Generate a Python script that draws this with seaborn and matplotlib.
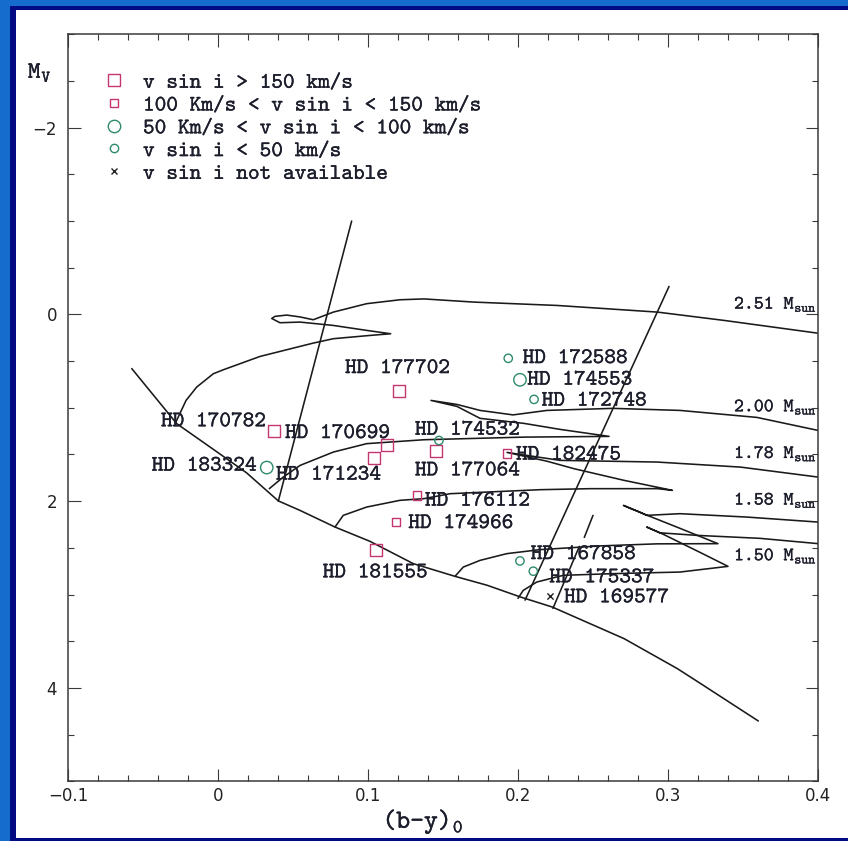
import numpy as np
import pandas as pd
import matplotlib
matplotlib.use("Agg")
import matplotlib.pyplot as plt
import matplotlib.patheffects as pe
from matplotlib.lines import Line2D
from matplotlib.patches import Rectangle
from matplotlib.ticker import MultipleLocator
import seaborn as sns

# ---------------- programme stars: (b-y)0, Mv and v sin i class ----------------
star_names = ["HD 177702", "HD 170782", "HD 170699", "HD 171234", "HD 177064",
              "HD 181555", "HD 182475", "HD 176112", "HD 174966", "HD 183324",
              "HD 174553", "HD 172588", "HD 172748", "HD 174532", "HD 167858",
              "HD 175337", "HD 169577"]
star_by = [0.1205, 0.0371, 0.1123, 0.1038, 0.1453, 0.1051, 0.1925, 0.1323, 0.1183,
           0.0323, 0.2011, 0.1933, 0.2105, 0.1471, 0.2011, 0.2100, 0.2211]
star_mv = [0.82, 1.25, 1.40, 1.54, 1.46, 2.52, 1.49, 1.94, 2.22,
           1.64, 0.70, 0.47, 0.91, 1.35, 2.64, 2.75, 3.02]
star_vsini = ["fast", "fast", "fast", "fast", "fast", "fast", "mid", "mid", "mid",
              "moderate", "moderate", "slow", "slow", "slow", "slow", "slow", "na"]

vsini_classes = ["fast", "mid", "moderate", "slow", "na"]
vsini_labels = ["v sin i > 150 km/s",
                "100 Km/s < v sin i < 150 km/s",
                "50 Km/s < v sin i < 100 km/s",
                "v sin i < 50 km/s",
                "v sin i not available"]

# where each star name is written (left end, baseline)
name_by = [0.0845, -0.0382, 0.0445, 0.0385, 0.1311, 0.0696, 0.1985, 0.1378, 0.1267,
           -0.0444, 0.2060, 0.2029, 0.2156, 0.1311, 0.2083, 0.2207, 0.2305]
name_mv = [0.628, 1.198, 1.324, 1.769, 1.724, 2.816, 1.555, 2.048, 2.288,
           1.673, 0.752, 0.521, 0.977, 1.288, 2.620, 2.869, 3.083]

# ---------------- ZAMS and evolutionary tracks ----------------
zams_by = [-0.0577, -0.0277, -0.0033, 0.0189, 0.0400, 0.0545, 0.0778, 0.1011, 0.1300,
           0.1578, 0.1793, 0.2016, 0.2227, 0.2705, 0.3060, 0.3216, 0.3600]
zams_mv = [0.58, 1.17, 1.445, 1.697, 1.997, 2.099, 2.277, 2.430, 2.669,
           2.805, 2.901, 3.027, 3.134, 3.472, 3.793, 3.954, 4.354]

trk251_by = [-0.0285, -0.0215, -0.0144, -0.0033, 0.0033, 0.0278, 0.0633, 0.0767, 0.1011,
             0.1149, 0.0989, 0.0767, 0.0545, 0.0411, 0.0356, 0.0378, 0.0456, 0.0545,
             0.0633, 0.0767, 0.0989, 0.1211, 0.1371, 0.1705, 0.2260, 0.2927, 0.3371,
             0.3993]
trk251_mv = [1.16, 0.921, 0.778, 0.635, 0.593, 0.450, 0.307, 0.260, 0.225,
             0.207, 0.171, 0.118, 0.082, 0.089, 0.043, 0.021, 0.007, 0.027,
             0.057, -0.025, -0.115, -0.157, -0.166, -0.132, -0.096, -0.025, 0.064,
             0.200]

trk200_by = [0.0340, 0.0433, 0.0545, 0.0767, 0.0989, 0.1371, 0.2038, 0.2605, 0.2278,
             0.2038, 0.1745, 0.1591, 0.1418, 0.1591, 0.1745, 0.1965, 0.2191, 0.2631,
             0.3078, 0.3591, 0.3998]
trk200_mv = [1.866, 1.742, 1.617, 1.474, 1.384, 1.342, 1.314, 1.306, 1.231,
             1.167, 1.113, 0.985, 0.921, 0.964, 1.028, 1.076, 1.028, 1.006,
             1.028, 1.103, 1.242]

trk178_by = [0.0778, 0.0833, 0.0989, 0.1211, 0.1371, 0.1545, 0.2145, 0.2483, 0.2927,
             0.3027, 0.2705, 0.2371, 0.2191, 0.1925, 0.2145, 0.2278, 0.2925, 0.3481,
             0.3999]
trk178_mv = [2.277, 2.152, 2.063, 1.991, 1.973, 1.920, 1.877, 1.866, 1.866,
             1.884, 1.777, 1.652, 1.572, 1.478, 1.531, 1.563, 1.581, 1.635,
             1.742]

trk158_by = [0.1578, 0.1633, 0.1745, 0.1923, 0.2145, 0.2545, 0.2925, 0.3331, 0.3078,
             0.2878, 0.2745, 0.2701, 0.2799, 0.2856, 0.3078, 0.3522, 0.4000]
trk158_mv = [2.805, 2.706, 2.634, 2.562, 2.519, 2.479, 2.457, 2.455, 2.291,
             2.163, 2.077, 2.045, 2.109, 2.152, 2.134, 2.170, 2.224]

trk150_by = [0.1998, 0.2033, 0.2123, 0.2300, 0.2633, 0.3078, 0.3398, 0.3211, 0.2967,
             0.2856, 0.2945, 0.3189, 0.3611, 0.4000]
trk150_mv = [3.041, 2.955, 2.866, 2.794, 2.776, 2.759, 2.698, 2.548, 2.355,
             2.277, 2.339, 2.366, 2.398, 2.455]

# instability strip edges
blue_edge_by = [0.0889, 0.0400]
blue_edge_mv = [-1.00, 2.00]
red_edge_by = [0.3005, 0.2045]
red_edge_mv = [-0.30, 3.06]
inner_a_by = [0.2231, 0.2407]
inner_a_mv = [3.148, 2.484]
inner_b_by = [0.2440, 0.2498]
inner_b_mv = [2.388, 2.152]

mass_labels = ["2.51", "2.00", "1.78", "1.58", "1.50"]
mass_label_by = [0.3438, 0.3438, 0.3438, 0.3438, 0.3438]
mass_label_mv = [-0.061, 1.039, 1.538, 2.038, 2.634]

x_tick_values = [-0.1, 0.0, 0.1, 0.2, 0.3, 0.4]
x_tick_labels = ["\u22120.1", "0", "0.1", "0.2", "0.3", "0.4"]
y_tick_values = [-2, 0, 2, 4]
y_tick_labels = ["\u22122", "0", "2", "4"]

# ---------------- style ----------------
sns.set_style("ticks")
TXT = 16.0
MASS_TXT = 13.6
SERIF_MONO = ["cmtt10", "DejaVu Sans"]
INK = "#1c1e2c"
plt.rcParams.update({
    "font.family": SERIF_MONO,
    "mathtext.fontset": "custom",
    "mathtext.rm": "cmtt10",
    "mathtext.it": "cmtt10",
    "mathtext.bf": "cmtt10",
    "axes.edgecolor": "#3a3a3a",
    "axes.linewidth": 1.1,
    "xtick.color": "#3a3a3a",
    "ytick.color": "#3a3a3a",
    "xtick.labelcolor": "#222222",
    "ytick.labelcolor": "#222222",
})
heavy = [pe.withStroke(linewidth=0.2, foreground=INK)]

PINK = "#C4366F"
GREEN = "#2E8B6C"
LINE = "#1a1a1a"
W, H = 848, 841

fig = plt.figure(figsize=(W / 100, H / 100), dpi=100)
fig.patch.set_facecolor("#166CCC")
fig.add_artist(Rectangle((10 / W, 0), 838 / W, 835 / H, transform=fig.transFigure,
                         facecolor="#000A82", edgecolor="none", zorder=-3))
fig.add_artist(Rectangle((16 / W, 3 / H), 832 / W, 828 / H, transform=fig.transFigure,
                         facecolor="white", edgecolor="none", zorder=-2))

ax = fig.add_axes([68.3 / W, (H - 781.3) / H, 750 / W, 747 / H])
ax.set_facecolor("none")

# curves
curves = {
    "zams": (zams_by, zams_mv),
    "2.51": (trk251_by, trk251_mv),
    "2.00": (trk200_by, trk200_mv),
    "1.78": (trk178_by, trk178_mv),
    "1.58": (trk158_by, trk158_mv),
    "1.50": (trk150_by, trk150_mv),
    "blue": (blue_edge_by, blue_edge_mv),
    "red": (red_edge_by, red_edge_mv),
    "inner_a": (inner_a_by, inner_a_mv),
    "inner_b": (inner_b_by, inner_b_mv),
}
curve_df = pd.concat(
    [pd.DataFrame({"by": b, "mv": m, "curve": k}) for k, (b, m) in curves.items()],
    ignore_index=True)
sns.lineplot(data=curve_df, x="by", y="mv", units="curve", estimator=None,
             sort=False, color=LINE, linewidth=1.15, ax=ax, legend=False)

# stars
stars = pd.DataFrame({"name": star_names, "by": star_by, "mv": star_mv,
                      "vsini": star_vsini})
marker_style = {
    "fast": dict(marker="s", s=76, color=PINK, hollow=True),
    "mid": dict(marker="s", s=36, color=PINK, hollow=True),
    "moderate": dict(marker="o", s=80, color=GREEN, hollow=True),
    "slow": dict(marker="o", s=36, color=GREEN, hollow=True),
    "na": dict(marker="x", s=20, color="#222222", hollow=False),
}
for cls in vsini_classes:
    st = marker_style[cls]
    sub = stars[stars["vsini"] == cls]
    sns.scatterplot(data=sub, x="by", y="mv", marker=st["marker"], s=st["s"],
                    color=st["color"], linewidth=1.0, ax=ax, legend=False, zorder=3)
    coll = ax.collections[-1]
    if st["hollow"]:
        coll.set_facecolor("none")
        coll.set_edgecolor(st["color"])

for nm, bx, my in zip(star_names, name_by, name_mv):
    ax.text(bx, my, nm, fontsize=TXT, color=INK, ha="left", va="baseline",
            zorder=4, path_effects=heavy)

for lab, bx, my in zip(mass_labels, mass_label_by, mass_label_mv):
    ax.text(bx, my, lab + r" M$_{\rm sun}$", fontsize=MASS_TXT, color=INK,
            ha="left", va="baseline", zorder=4, path_effects=heavy)

# axes
ax.set_xlim(-0.1, 0.4)
ax.set_ylim(5, -3)
ax.set_xlabel("")
ax.set_ylabel("")
ax.set_xticks(x_tick_values, labels=x_tick_labels, fontfamily="DejaVu Sans", fontsize=12)
ax.set_yticks(y_tick_values, labels=y_tick_labels, fontfamily="DejaVu Sans", fontsize=12)
ax.xaxis.set_minor_locator(MultipleLocator(0.02))
ax.yaxis.set_minor_locator(MultipleLocator(0.5))
ax.tick_params(which="both", direction="in", top=True, right=True, width=0.8)
ax.tick_params(which="major", length=9)
ax.tick_params(which="minor", length=4.6)
ax.tick_params(axis="x", which="major", pad=4)
ax.tick_params(axis="y", which="major", pad=8)
for side in ["top", "right", "left", "bottom"]:
    ax.spines[side].set_visible(True)

# legend
handles = []
for cls in vsini_classes:
    st = marker_style[cls]
    ms = np.sqrt(st["s"])
    if st["hollow"]:
        handles.append(Line2D([], [], ls="none", marker=st["marker"], markersize=ms,
                              mfc="none", mec=st["color"], mew=1.0))
    else:
        handles.append(Line2D([], [], ls="none", marker=st["marker"], markersize=ms,
                              color=st["color"], mew=1.0))
leg = ax.legend(handles, vsini_labels, loc="upper left",
                bbox_to_anchor=((105.2 - 68.3) / 750, 1 - (72.2 - 34.3) / 747),
                frameon=False, borderpad=0, borderaxespad=0, handlelength=0.82,
                handletextpad=0.88, labelspacing=0.1,
                prop={"family": SERIF_MONO, "size": TXT})
for t in leg.get_texts():
    t.set_color(INK)
    t.set_path_effects(heavy)

fig.text(28 / W, 1 - 78 / H, r"M$_{\rm V}$", fontsize=TXT + 1, color=INK,
         ha="left", va="baseline", path_effects=heavy)
fig.text(423 / W, 1 - 828 / H, "(b-y)$_0$", fontsize=19, color=INK,
         ha="center", va="baseline", path_effects=heavy)

fig.savefig("out.png", dpi=100, facecolor=fig.get_facecolor())
